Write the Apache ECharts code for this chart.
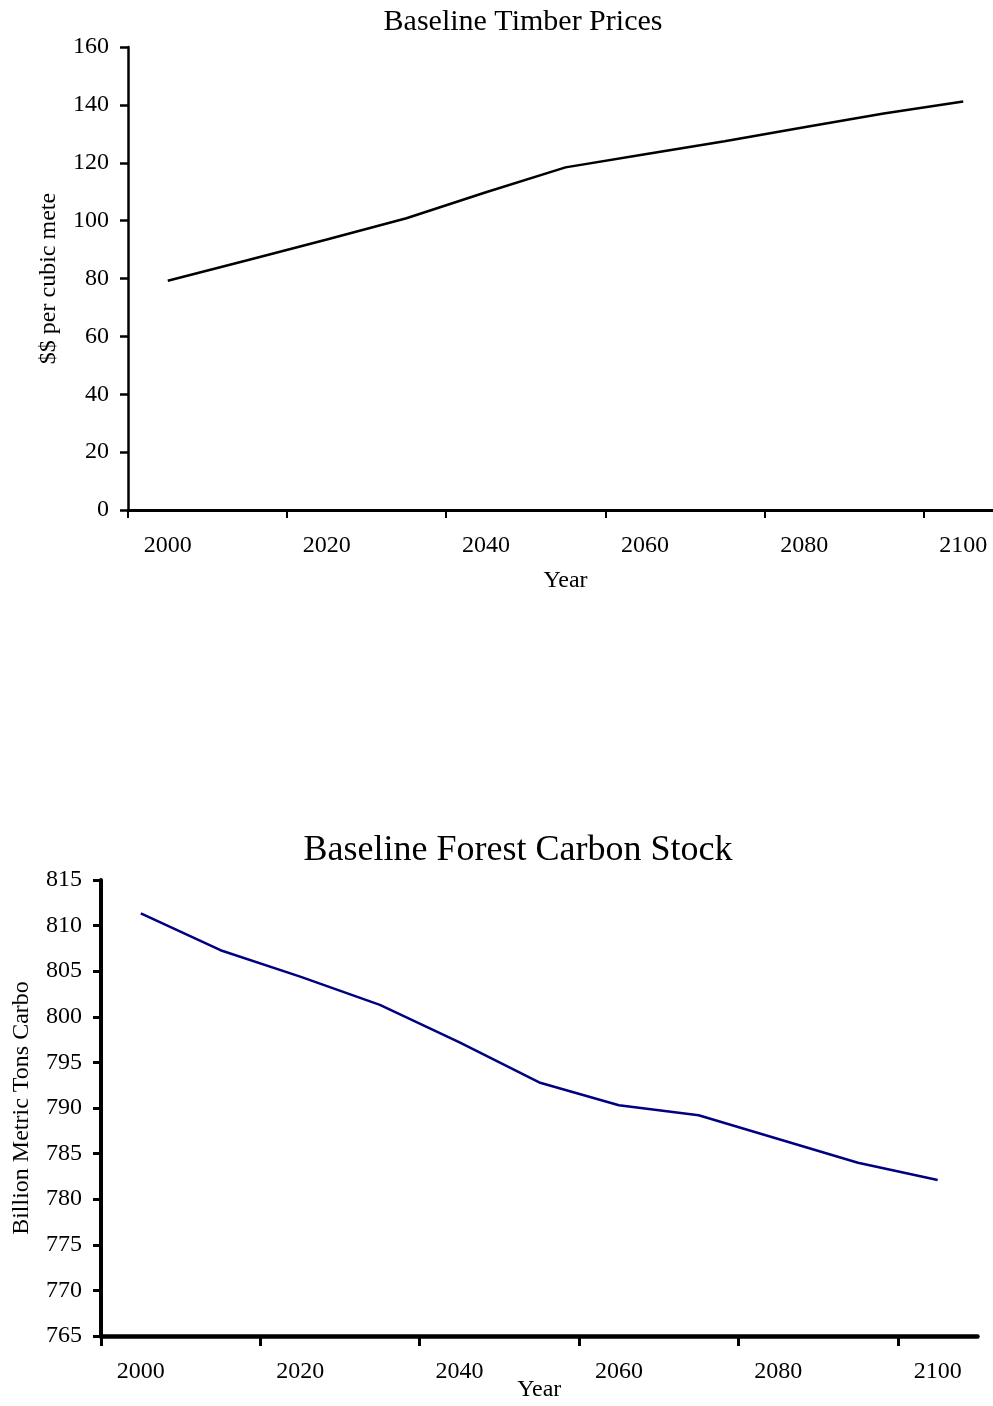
<!DOCTYPE html>
<html>
<head>
<meta charset="utf-8">
<script src="https://cdn.jsdelivr.net/npm/echarts@6/dist/echarts.min.js"></script>
<style>
html,body{margin:0;padding:0;background:#fff;overflow:hidden;}
#chart{width:993px;height:1406px;}
</style>
</head>
<body>
<div id="chart"></div>
<script>
// ---- data ----
var years = [2000, 2010, 2020, 2030, 2040, 2050, 2060, 2070, 2080, 2090, 2100];
var timberPrices = [79.2, 86.3, 93.5, 100.8, 109.8, 118.4, 122.9, 127.4, 132.3, 137.0, 141.2];
var carbonStock = [811.35, 807.3, 804.4, 801.3, 797.2, 792.8, 790.3, 789.2, 786.6, 784.0, 782.1];
var xTickValues = [1995, 2015, 2035, 2055, 2075, 2095];
var xLabelValues = [2000, 2020, 2040, 2060, 2080, 2100];
var timberTicks = [0, 20, 40, 60, 80, 100, 120, 140, 160];
var carbonTicks = [765, 770, 775, 780, 785, 790, 795, 800, 805, 810, 815];

var FONT = '"Liberation Serif", "Times New Roman", serif';

function pairs(xs, ys) {
  return xs.map(function (x, i) { return [x, ys[i]]; });
}

var chart = echarts.init(document.getElementById('chart'), null, {renderer: 'canvas'});

function xAxisCfg(gridIndex, lw, tickLen, tickW, labelMargin, nameGap) {
  return {
    type: 'value',
    gridIndex: gridIndex,
    min: 1995,
    max: 2105,
    name: 'Year',
    nameLocation: 'middle',
    nameGap: nameGap,
    nameMoveOverlap: false,
    nameTextStyle: {fontFamily: FONT, fontSize: 24, color: '#000'},
    axisLine: {show: true, onZero: false, lineStyle: {color: '#000', width: lw}},
    axisTick: {show: true, length: tickLen, customValues: xTickValues, lineStyle: {color: '#000', width: tickW}},
    axisLabel: {
      show: true, customValues: xLabelValues, margin: labelMargin,
      fontFamily: FONT, fontSize: 24, color: '#000',
      formatter: function (v) { return String(v); }
    },
    splitLine: {show: false}
  };
}

var option = {
  backgroundColor: '#fff',
  animation: false,
  title: [
    {
      text: 'Baseline Timber Prices', left: 518, top: 2, textAlign: 'center',
      textStyle: {fontFamily: FONT, fontSize: 30, fontWeight: 'normal', color: '#000'}
    },
    {
      text: 'Baseline Forest Carbon Stock', left: 513, top: 828, textAlign: 'center',
      textStyle: {fontFamily: FONT, fontSize: 36, fontWeight: 'normal', color: '#000'}
    }
  ],
  grid: [
    {left: 128, top: 47, width: 875, height: 463, containLabel: false, outerBoundsMode: 'none'},
    {left: 101, top: 880, width: 876.5, height: 456, containLabel: false, outerBoundsMode: 'none'}
  ],
  xAxis: [
    xAxisCfg(0, 3, 8, 2, 24, 59),
    xAxisCfg(1, 4.5, 10, 3, 24, 42)
  ],
  yAxis: [
    {
      type: 'value', gridIndex: 0, min: timberTicks[0], max: timberTicks[timberTicks.length - 1], interval: 20,
      name: '$$ per cubic meter', nameLocation: 'middle', nameGap: 67, nameMoveOverlap: false,
      nameTruncate: {maxWidth: 177, ellipsis: ''},
      nameTextStyle: {fontFamily: FONT, fontSize: 24, color: '#000'},
      axisLine: {show: true, onZero: false, lineStyle: {color: '#000', width: 2.5}},
      axisTick: {show: true, length: 8, lineStyle: {color: '#000', width: 2.5}},
      axisLabel: {margin: 19, fontFamily: FONT, fontSize: 24, color: '#000'},
      splitLine: {show: false}
    },
    {
      type: 'value', gridIndex: 1, min: carbonTicks[0], max: carbonTicks[carbonTicks.length - 1], interval: 5,
      name: 'Billion Metric Tons Carbon', nameLocation: 'middle', nameGap: 67, nameMoveOverlap: false,
      nameTruncate: {maxWidth: 258, ellipsis: ''},
      nameTextStyle: {fontFamily: FONT, fontSize: 24, color: '#000'},
      axisLine: {show: true, onZero: false, lineStyle: {color: '#000', width: 4}},
      axisTick: {show: true, length: 8, lineStyle: {color: '#000', width: 3}},
      axisLabel: {margin: 19, fontFamily: FONT, fontSize: 24, color: '#000'},
      splitLine: {show: false}
    }
  ],
  series: [
    {
      type: 'line', xAxisIndex: 0, yAxisIndex: 0,
      data: pairs(years, timberPrices),
      showSymbol: false, symbol: 'none',
      lineStyle: {color: '#000000', width: 2.5}
    },
    {
      type: 'line', xAxisIndex: 1, yAxisIndex: 1,
      data: pairs(years, carbonStock),
      showSymbol: false, symbol: 'none',
      lineStyle: {color: '#000080', width: 2.5}
    }
  ]
};
chart.setOption(option);
</script>
</body>
</html>
